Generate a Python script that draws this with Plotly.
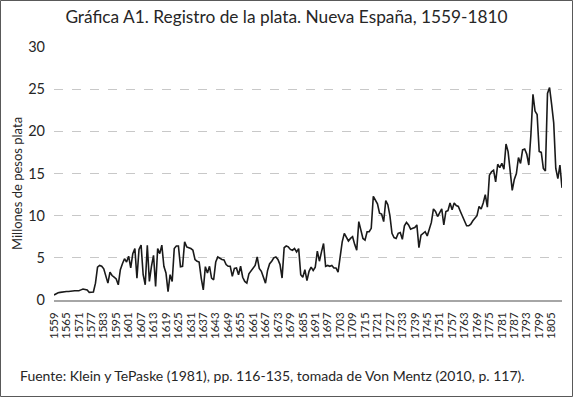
import plotly.graph_objects as go

# Years (categories): 1559-1583, gap, 1590-1810
years = [str(y) for y in list(range(1559, 1584)) + list(range(1590, 1811))]

# Silver registered, millions of pesos
silver = [
    0.6, 0.75, 0.85, 0.9, 0.95, 1.0, 1.0, 1.0, 1.05, 1.05,
    1.1, 1.1, 1.1, 1.2, 1.3, 1.25, 1.2, 0.9, 0.9, 0.95,
    2.0, 3.9, 4.1, 4.0, 3.7, 2.8, 2.0, 3.3, 2.9, 2.7,
    2.5, 1.8, 3.6, 4.3, 4.9, 4.5, 5.2, 3.8, 5.5, 6.1,
    2.6, 6.0,
    6.5, 3.0, 1.8, 6.5, 2.2, 4.0, 5.3, 1.6, 6.1, 5.5,
    6.5, 4.0, 3.2, 1.0, 3.0, 2.2, 6.1, 6.4, 6.4, 3.95,
    4.0, 6.9, 6.3, 6.2, 6.1, 5.9, 4.8, 4.6, 4.5, 2.6,
    1.2, 3.95, 3.2, 4.0, 2.6, 2.4, 4.5, 5.1, 4.9, 4.8,
    4.75,
    4.2, 4.0, 4.0, 2.8, 3.75, 3.8, 3.0, 4.0, 2.7, 2.2,
    2.0, 3.1, 3.4, 3.75, 4.1, 5.1, 3.75, 3.4, 2.8, 2.0,
    3.5, 4.3, 4.6, 5.0, 5.1, 4.8, 4.2, 2.6, 6.2, 6.4,
    6.3, 6.0, 5.9, 6.1, 5.7, 6.1, 3.0, 2.7, 3.6, 2.3,
    3.4,
    3.9, 3.5, 3.9, 5.8, 4.6, 5.7, 6.7, 4.0, 4.1, 4.0,
    4.1, 3.8, 3.8, 3.3, 5.5, 6.9, 7.9, 7.4, 7.0, 7.3,
    7.5, 6.6, 5.9, 9.3, 8.3, 7.3, 7.1, 8.1, 8.1, 8.5,
    12.3, 11.8, 11.4, 10.3, 10.2, 9.3, 11.8, 11.3, 10.0, 7.9,
    7.4,
    7.3, 7.9, 8.0, 7.2, 8.8, 9.2, 8.9, 8.4, 8.5, 8.6,
    8.9, 6.2, 7.7, 7.9, 8.1, 7.6, 8.5, 9.2, 10.8, 10.5,
    9.9, 10.3, 10.8, 8.9, 10.5, 10.6, 11.5, 10.7, 11.5, 11.2,
    11.1, 10.5, 9.9, 9.2, 8.8, 8.8, 9.0, 9.4, 9.7, 10.0,
    11.1,
    10.8, 11.5, 12.5, 11.0, 14.8, 15.2, 15.4, 14.0, 16.1, 15.7,
    16.2, 15.5, 18.5, 17.6, 15.5, 13.0, 14.3, 15.0, 16.9, 16.2,
    17.8, 17.9, 17.3, 16.0, 19.6, 24.4, 22.4, 22.0, 17.6, 17.5,
    15.6, 15.3, 24.5, 25.2, 23.2, 21.0, 15.6, 14.4, 16.0, 13.3,
]

tick_years = years[::6]
y_ticks = [0, 5, 10, 15, 20, 25, 30]

title_text = "Gráfica A1. Registro de la plata. Nueva España, 1559-1810"
y_title = "Millones de pesos plata"
source_text = "Fuente: Klein y TePaske (1981), pp. 116-135, tomada de Von Mentz (2010, p. 117)."

FONT = "Lato, 'Open Sans', sans-serif"
W, H = 573, 397
L, R, T, B = 54, 11, 47, 97
PW, PH = W - L - R, H - T - B

fig = go.Figure()
fig.add_trace(go.Scatter(
    x=years, y=silver, mode="lines",
    line=dict(color="#1a1a1a", width=1.6),
    hoverinfo="x+y", showlegend=False,
))

fig.update_layout(
    width=W, height=H,
    margin=dict(l=L, r=R, t=T, b=B, pad=0),
    paper_bgcolor="white", plot_bgcolor="white",
    font=dict(family=FONT, color="#262626"),
    title=dict(text=title_text, x=0.5, xref="container", xanchor="center",
               y=1 - 17 / H, yref="container", yanchor="middle",
               font=dict(size=17.3, color="#262626", family=FONT)),
    xaxis=dict(
        type="category", range=[0, len(years) - 1],
        tickmode="array", tickvals=tick_years, ticktext=tick_years,
        tickangle=-90, tickfont=dict(size=11.5, color="#262626"),
        showgrid=False, showline=True, linecolor="#a6a6a6", linewidth=1.5,
        ticks="", ticklabelstandoff=6, zeroline=False,
    ),
    yaxis=dict(
        range=[0, 30], tickmode="array", tickvals=y_ticks,
        tickfont=dict(size=14.5, color="#262626"),
        showgrid=True, gridcolor="#c8c8c8", griddash="dash", gridwidth=1,
        zeroline=False, showline=False, ticks="", ticklabelstandoff=8,
    ),
    annotations=[
        dict(text=y_title, textangle=-90, x=-37 / PW, xref="paper",
             y=(300 - 184) / PH, yref="paper",
             xanchor="center", yanchor="middle", showarrow=False,
             font=dict(size=13, color="#262626", family=FONT)),
        dict(text=source_text, x=-36 / PW, xref="paper", xanchor="left",
             y=-(375 - 300) / PH, yref="paper", yanchor="middle",
             showarrow=False, font=dict(size=14, color="#262626", family=FONT)),
    ],
    shapes=[
        dict(type="rect", xref="paper", yref="paper",
             x0=-(L - 0.5) / PW, x1=1 + (R - 0.5) / PW,
             y0=-(B - 0.5) / PH, y1=1 + (T - 0.5) / PH,
             line=dict(color="#595959", width=1), fillcolor="rgba(0,0,0,0)",
             layer="above"),
    ],
)

fig.write_html("out.html",
               config={"displayModeBar": False},
               post_script="document.body.style.margin='0';document.body.style.overflow='hidden';")
